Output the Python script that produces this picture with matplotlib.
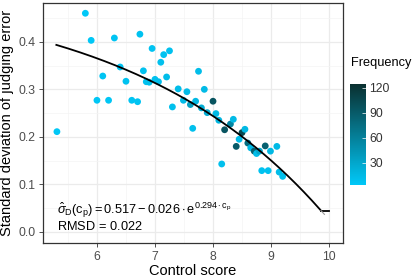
import numpy as np
import matplotlib
matplotlib.use('Agg')
import matplotlib.pyplot as plt
from matplotlib.colors import LinearSegmentedColormap

plt.rcParams['font.family'] = ['Liberation Sans', 'DejaVu Sans']
plt.rcParams['mathtext.fontset'] = 'custom'
plt.rcParams['mathtext.rm'] = 'Liberation Sans'
plt.rcParams['mathtext.it'] = 'Liberation Sans:italic'

# data
control_score = [5.31, 5.80, 5.90, 6.00, 6.10, 6.20, 6.30, 6.40, 6.50, 6.60,
                 6.70, 6.74, 6.80, 6.85, 6.90, 6.95, 7.00, 7.06, 7.10, 7.15,
                 7.20, 7.25, 7.30, 7.40, 7.49, 7.55, 7.61, 7.65, 7.70, 7.75,
                 7.80, 7.85, 7.90, 8.00, 8.05, 8.10, 8.20, 8.30, 8.35, 8.50,
                 8.55, 8.45, 8.40, 8.60, 8.65, 8.71, 8.75, 8.80, 8.90, 8.99,
                 9.10, 8.15, 8.84, 8.95, 9.14, 9.20]
sd_error = [0.211, 0.460, 0.403, 0.277, 0.328, 0.277, 0.408, 0.347, 0.317, 0.277,
            0.274, 0.416, 0.339, 0.316, 0.315, 0.386, 0.321, 0.316, 0.357, 0.373,
            0.326, 0.381, 0.263, 0.301, 0.277, 0.295, 0.268, 0.218, 0.275, 0.338,
            0.261, 0.300, 0.251, 0.275, 0.249, 0.235, 0.215, 0.227, 0.237, 0.209,
            0.216, 0.195, 0.180, 0.187, 0.177, 0.170, 0.165, 0.170, 0.181, 0.170,
            0.180, 0.143, 0.129, 0.129, 0.126, 0.117]
frequency = [4, 3, 4, 5, 6, 5, 6, 7, 8, 6,
             7, 8, 9, 8, 10, 7, 9, 11, 10, 8,
             12, 9, 10, 12, 14, 13, 35, 10, 15, 12,
             25, 14, 25, 95, 15, 18, 95, 55, 14, 105,
             15, 12, 90, 75, 14, 85, 12, 30, 85, 16,
             14, 10, 8, 9, 12, 10]

# fitted curve
a, b, c = 0.517, 0.026, 0.294
x_fit = np.linspace(5.3, 9.86, 200)
y_fit = a - b * np.exp(c * x_fit)

cmap = LinearSegmentedColormap.from_list('freq', ['#00C8F8', '#0A3030'])

fig = plt.figure(figsize=(4.15, 2.77), dpi=100)
ax = fig.add_axes([0.1036, 0.1227, 0.7229, 0.8663])

ax.set_xlim(5.07, 10.24)
ax.set_ylim(-0.0232, 0.4815)
ax.set_xticks([6, 7, 8, 9, 10])
ax.set_yticks([0.0, 0.1, 0.2, 0.3, 0.4])
ax.set_yticklabels(['0.0', '0.1', '0.2', '0.3', '0.4'])
ax.set_xticks(np.arange(5.5, 10.5, 1.0), minor=True)
ax.set_yticks(np.arange(0.05, 0.5, 0.1), minor=True)
ax.grid(True, which='major', color='#EBEBEB', lw=0.9)
ax.grid(True, which='minor', color='#F4F4F4', lw=0.5)
ax.set_axisbelow(True)
ax.tick_params(which='minor', length=0)
ax.tick_params(which='major', length=3, width=0.6, color='#333333',
               labelsize=8.8, labelcolor='#4D4D4D', pad=2.5)
for s in ax.spines.values():
    s.set_color('#333333')
    s.set_linewidth(0.9)

sc = ax.scatter(control_score, sd_error, c=frequency, cmap=cmap, vmin=3, vmax=124,
                s=24, linewidths=0, zorder=3)
ax.plot(x_fit, y_fit, color='black', lw=1.3, zorder=4)
ax.plot([x_fit[-1], 10.0], [y_fit[-1], y_fit[-1]], color='black', lw=1.3, zorder=4)
ax.plot([x_fit[-1], 9.92], [y_fit[-1], y_fit[-1] - 0.008], color='#999999', lw=0.8, zorder=4)

ax.text(5.31, 0.046,
        r'$\hat{\sigma}_{\mathrm{D}}(\mathrm{c}_{\mathrm{p}}) = 0.517 - 0.026\cdot\mathrm{e}^{0.294\cdot\mathrm{c}_{\mathrm{p}}}$',
        fontsize=9.2, va='center', ha='left', color='black')
ax.text(5.31, 0.012, r'RMSD$\,=\,$0.022', fontsize=9.2, va='center', ha='left', color='black')

ax.set_xlabel('Control score', fontsize=10.5, color='black', labelpad=1)
ax.set_ylabel('Standard deviation of judging error', fontsize=10.5, color='black', labelpad=3)

cax = fig.add_axes([0.843, 0.332, 0.040, 0.3636])
cb = fig.colorbar(sc, cax=cax)
cb.set_ticks([30, 60, 90, 120])
cb.outline.set_visible(False)
cax.tick_params(length=3, width=0.5, color='white', direction='in',
                labelsize=8.8, labelcolor='#333333', pad=2)
fig.text(0.845, 0.772, 'Frequency', fontsize=9.2, va='center', ha='left')

fig.savefig('out.png', dpi=100)
plt.close()
